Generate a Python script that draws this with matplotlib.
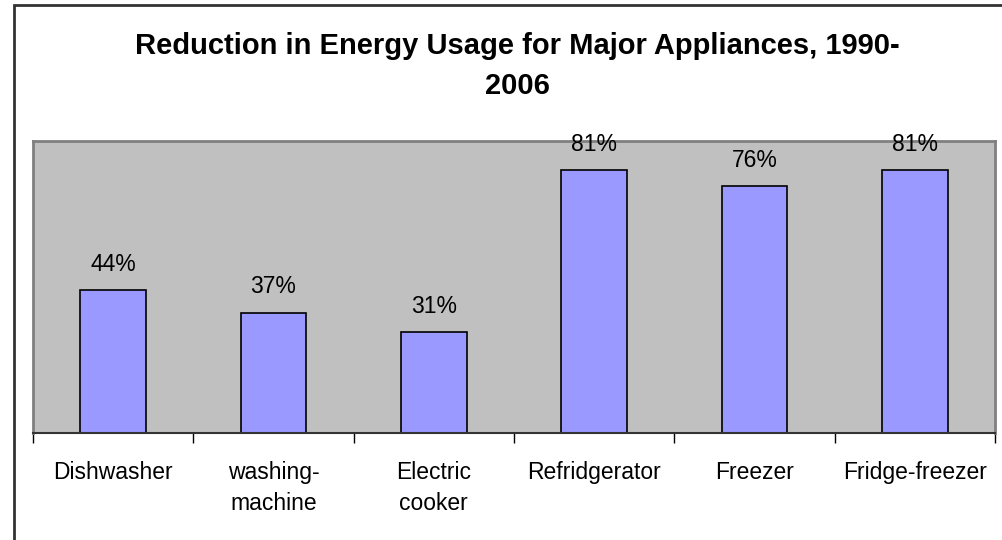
import matplotlib.pyplot as plt
from matplotlib.patches import Rectangle
import numpy as np

categories = ["Dishwasher", "washing-\nmachine", "Electric\ncooker",
              "Refridgerator", "Freezer", "Fridge-freezer"]
values = [44, 37, 31, 81, 76, 81]
title_lines = ["Reduction in Energy Usage for Major Appliances, 1990-", "2006"]

plt.rcParams['font.family'] = ['Liberation Sans', 'DejaVu Sans']

fig = plt.figure(figsize=(10.03, 5.40), dpi=100)
W, H = 1003, 540

# outer chart border
fig.patches.append(Rectangle((14 / W, -0.05), 1.1, 1 - 5 / H + 0.05,
                             transform=fig.transFigure, fill=False,
                             edgecolor='#333333', linewidth=2))

ax = fig.add_axes([33 / W, (H - 433) / H, 962 / W, 292 / H])
ax.set_facecolor('#C0C0C0')

x = np.arange(len(categories))
ax.bar(x, values, width=0.41, color='#9999FF', edgecolor='black', linewidth=1.2)
for xi, v in zip(x, values):
    ax.text(xi, v + 6.0, f"{v}%", ha='center', va='baseline', fontsize=16.5)

ax.set_xlim(-0.5, len(categories) - 0.5)
ax.set_ylim(0, 90)
ax.set_yticks([])

ax.set_xticks(np.arange(len(categories) + 1) - 0.5)
ax.set_xticklabels([])
ax.set_xticks(x, minor=True)
ax.set_xticklabels(categories, minor=True, fontsize=16.5, linespacing=1.45, va='top')
ax.tick_params(axis='x', which='major', length=7, width=1, color='black')
ax.tick_params(axis='x', which='minor', length=0, pad=20)

for side in ['left', 'top', 'right']:
    ax.spines[side].set_color('#808080')
    ax.spines[side].set_linewidth(2)
ax.spines['bottom'].set_color('#333333')
ax.spines['bottom'].set_linewidth(1.5)

fig.text(517 / W, 1 - 54 / H, title_lines[0], ha='center', va='baseline',
         fontsize=21, fontweight='bold')
fig.text(517 / W, 1 - 94 / H, title_lines[1], ha='center', va='baseline',
         fontsize=21, fontweight='bold')

fig.savefig('out.png', dpi=100)
